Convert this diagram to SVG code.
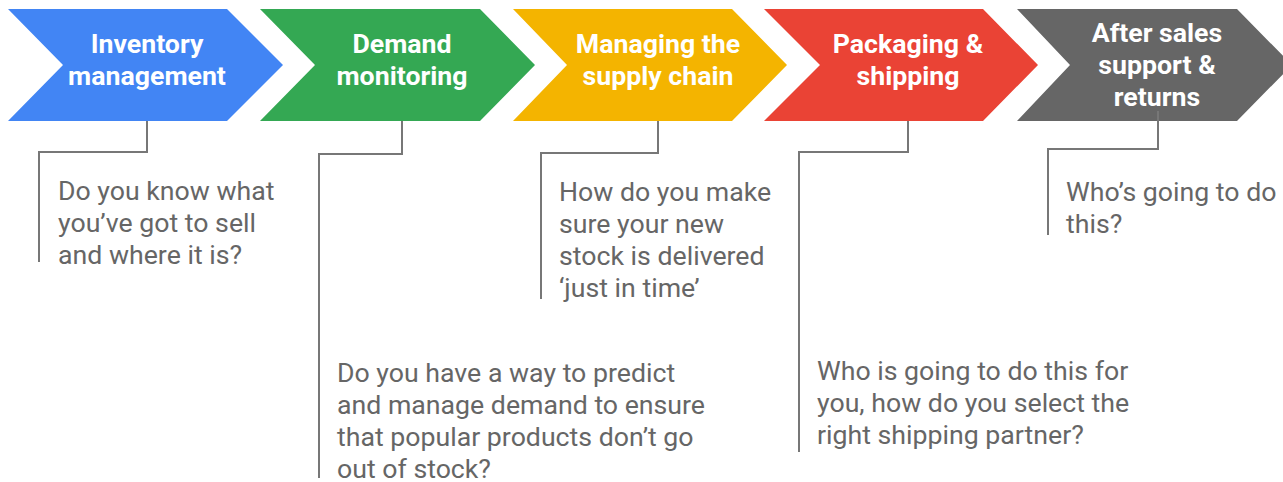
<svg xmlns="http://www.w3.org/2000/svg" width="1283" height="482" viewBox="0 0 1283 482">
  <style>
    .title { font-family: Roboto, "Liberation Sans", sans-serif; font-weight: bold; font-size: 26.7px; fill: #ffffff; text-anchor: middle; }
    .note { font-family: Roboto, "Liberation Sans", sans-serif; font-size: 26.7px; fill: #666666; }
    .link { fill: none; stroke: #777777; stroke-width: 2; }
  </style>
  <rect width="1283" height="482" fill="#ffffff"/>

  <!-- step chevrons -->
  <g id="step-inventory">
    <polygon points="8,9 227,9 283,65 227,121 8,121 63,65" fill="#4285F4"/>
    <text class="title" x="147" y="53">Inventory</text>
    <text class="title" x="147" y="85">management</text>
  </g>
  <g id="step-demand">
    <polygon points="260,9 480,9 535,65 480,121 260,121 315,65" fill="#34A853"/>
    <text class="title" x="402" y="53">Demand</text>
    <text class="title" x="402" y="85">monitoring</text>
  </g>
  <g id="step-supply">
    <polygon points="513,9 732,9 787,65 732,121 513,121 567,65" fill="#F4B400"/>
    <text class="title" x="658" y="53">Managing the</text>
    <text class="title" x="658" y="85">supply chain</text>
  </g>
  <g id="step-shipping">
    <polygon points="764,9 983,9 1038,65 983,121 764,121 820,65" fill="#EA4335"/>
    <text class="title" x="908" y="53">Packaging &amp;</text>
    <text class="title" x="908" y="85">shipping</text>
  </g>
  <g id="step-aftersales">
    <polygon points="1017,9 1237,9 1292,65 1237,121 1017,121 1070,65" fill="#666666"/>
    <text class="title" x="1157" y="42">After sales</text>
    <text class="title" x="1157" y="74">support &amp;</text>
    <text class="title" x="1157" y="106">returns</text>
  </g>

  <!-- elbow leaders from each step to its question -->
  <g id="connectors">
    <polyline class="link" points="147,121 147,152 39,152 39,262"/>
    <polyline class="link" points="402,121 402,154 319,154 319,478"/>
    <polyline class="link" points="658,121 658,153 541,153 541,299"/>
    <polyline class="link" points="908,121 908,152 799,152 799,452"/>
    <polyline class="link" points="1158,111 1158,149 1048,149 1048,235"/>
  </g>

  <!-- questions -->
  <g id="note-inventory">
    <text class="note" x="58" y="200">Do you know what</text>
    <text class="note" x="58" y="232">you’ve got to sell</text>
    <text class="note" x="58" y="264">and where it is?</text>
  </g>
  <g id="note-demand">
    <text class="note" x="337" y="382">Do you have a way to predict</text>
    <text class="note" x="337" y="414">and manage demand to ensure</text>
    <text class="note" x="337" y="446">that popular products don’t go</text>
    <text class="note" x="337" y="478">out of stock?</text>
  </g>
  <g id="note-supply">
    <text class="note" x="559" y="201">How do you make</text>
    <text class="note" x="559" y="233">sure your new</text>
    <text class="note" x="559" y="265">stock is delivered</text>
    <text class="note" x="559" y="297">‘just in time’</text>
  </g>
  <g id="note-shipping">
    <text class="note" x="817" y="380">Who is going to do this for</text>
    <text class="note" x="817" y="412">you, how do you select the</text>
    <text class="note" x="817" y="444">right shipping partner?</text>
  </g>
  <g id="note-aftersales">
    <text class="note" x="1066" y="201">Who’s going to do</text>
    <text class="note" x="1066" y="233">this?</text>
  </g>
</svg>
